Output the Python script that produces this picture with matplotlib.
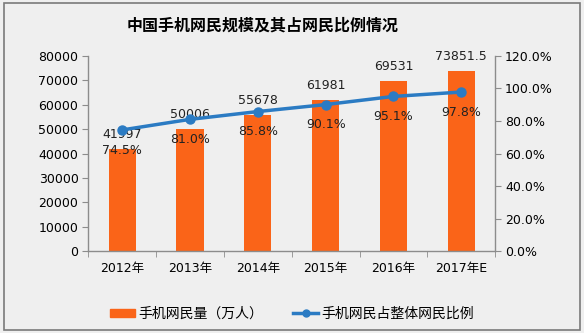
import matplotlib
matplotlib.use("Agg")
import matplotlib.pyplot as plt
from matplotlib.patches import Rectangle
from matplotlib.lines import Line2D

plt.rcParams['font.family'] = ['DejaVu Sans', 'Noto Sans CJK SC']

categories = ['2012年', '2013年', '2014年', '2015年', '2016年', '2017年E']
users = [41997, 50006, 55678, 61981, 69531, 73851.5]
user_labels = ['41997', '50006', '55678', '61981', '69531', '73851.5']
ratio = [74.5, 81.0, 85.8, 90.1, 95.1, 97.8]
left_ticks = [0, 10000, 20000, 30000, 40000, 50000, 60000, 70000, 80000]
right_ticks = [0, 20, 40, 60, 80, 100, 120]

title = '中国手机网民规模及其占网民比例情况'
bar_name = '手机网民量（万人）'
line_name = '手机网民占整体网民比例'

bg = '#efefef'
orange = '#fa6418'
blue = '#2b7bc3'
spine_c = '#8c8c8c'

fig = plt.figure(figsize=(5.84, 3.33), dpi=100, facecolor=bg)
ax = fig.add_axes([0.151, 0.246, 0.697, 0.586])
ax.set_facecolor('none')
ax2 = ax.twinx()

x = list(range(len(categories)))
ax.bar(x, users, width=0.4, color=orange, zorder=2)
ax.set_xlim(-0.5, len(categories) - 0.5)
ax.set_ylim(0, 80000)
ax.set_yticks(left_ticks)
ax.set_yticklabels([str(t) for t in left_ticks])
ax.set_xticks(x)
ax.set_xticklabels(categories)
ax.set_xticks([i - 0.5 for i in range(len(categories) + 1)], minor=True)
ax.tick_params(axis='x', which='major', length=0, pad=8, labelsize=9)
ax.tick_params(axis='x', which='minor', length=4, color=spine_c)
ax.tick_params(axis='y', length=4, color=spine_c, labelsize=9, pad=3)

ax2.plot(x, ratio, color=blue, lw=2.5, marker='o', markersize=6.5, zorder=3)
ax2.set_ylim(0, 120)
ax2.set_yticks(right_ticks)
ax2.set_yticklabels([f'{t:.1f}%' for t in right_ticks])
ax2.tick_params(axis='y', length=4, color=spine_c, labelsize=9, pad=3)

for a in (ax, ax2):
    a.spines['top'].set_visible(False)
    for s in ('left', 'right', 'bottom'):
        a.spines[s].set_color(spine_c)
        a.spines[s].set_linewidth(1.0)
ax.spines['right'].set_visible(False)
ax2.spines['left'].set_visible(False)
ax2.spines['bottom'].set_visible(False)

for xi, v, lab in zip(x, users, user_labels):
    ax.annotate(lab, (xi, v), xytext=(0, 10.5), textcoords='offset points',
                ha='center', va='center', fontsize=9, color='#222222', zorder=5)
for xi, r in zip(x, ratio):
    ax2.annotate(f'{r:.1f}%', (xi, r), xytext=(0, -14.5), textcoords='offset points',
                 ha='center', va='center', fontsize=9, color='#222222', zorder=5)

fig.text(0.449, 0.922, title, ha='center', va='center', fontsize=11.5,
         fontweight='bold', family=['Noto Sans CJK SC'])

handles = [Rectangle((0, 0), 1, 1, color=orange),
           Line2D([0], [0], color=blue, lw=2.5, marker='o', markersize=5)]
leg = fig.legend(handles, [bar_name, line_name], loc='center', ncol=2,
                 bbox_to_anchor=(0.5, 0.058), frameon=False,
                 handlelength=1.8, handleheight=0.5, columnspacing=2.2, handletextpad=0.2,
                 prop={'family': ['Noto Sans CJK SC'], 'size': 10})

fig.patches.append(Rectangle((0.006, 0.008), 0.988, 0.984, transform=fig.transFigure,
                             fill=False, edgecolor='#7a7a7a', lw=1.2))

fig.savefig('out.png', dpi=100, facecolor=bg)
